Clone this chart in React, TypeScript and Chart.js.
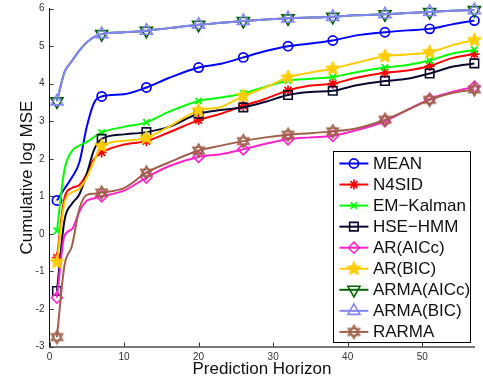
import React, { useEffect, useRef } from 'react';
import { Chart, registerables } from 'chart.js';
import { drawPoint } from 'chart.js/helpers';

Chart.register(...registerables);

// ---------- data ----------
const horizon = [1, 2, 3, 4, 5, 6, 7, 10, 13, 16, 20, 23, 26, 29, 32, 35, 38, 41, 45, 48, 51, 54, 57];
const markerSteps = [1, 7, 13, 20, 26, 32, 38, 45, 51, 57];
const xTicks = [0, 10, 20, 30, 40, 50];
const yTicks = [-3, -2, -1, 0, 1, 2, 3, 4, 5, 6];

const seriesNames = ['MEAN', 'N4SID', 'EM\u2212Kalman', 'HSE\u2212HMM', 'AR(AICc)', 'AR(BIC)', 'ARMA(AICc)', 'ARMA(BIC)', 'RARMA'];

const meanValues = [0.89, 1.2, 1.5, 1.9, 2.85, 3.5, 3.66, 3.72, 3.9, 4.15, 4.43, 4.53, 4.7, 4.87, 5.0, 5.07, 5.15, 5.28, 5.37, 5.42, 5.46, 5.58, 5.68];
const n4sidValues = [-0.63, 0.95, 1.22, 1.3, 1.6, 2.0, 2.17, 2.38, 2.47, 2.7, 3.03, 3.2, 3.41, 3.6, 3.82, 3.95, 4.0, 4.15, 4.29, 4.35, 4.47, 4.68, 4.79];
const emKalmanValues = [0.08, 1.7, 2.2, 2.35, 2.45, 2.58, 2.7, 2.85, 2.97, 3.25, 3.54, 3.63, 3.74, 3.92, 4.08, 4.13, 4.18, 4.3, 4.43, 4.5, 4.62, 4.8, 4.9];
const hseHmmValues = [-1.52, 0.35, 0.8, 1.05, 1.6, 2.25, 2.53, 2.65, 2.71, 2.85, 3.2, 3.3, 3.37, 3.52, 3.7, 3.78, 3.81, 3.95, 4.07, 4.13, 4.27, 4.45, 4.54];
const arAiccValues = [-1.7, -0.06, 0.12, 0.59, 0.88, 0.95, 1.0, 1.15, 1.5, 1.8, 2.05, 2.12, 2.25, 2.4, 2.52, 2.57, 2.61, 2.75, 3.0, 3.3, 3.59, 3.78, 3.92];
const arBicValues = [-0.75, 0.82, 1.1, 1.2, 1.5, 1.95, 2.34, 2.48, 2.56, 2.85, 3.29, 3.38, 3.67, 3.9, 4.17, 4.3, 4.4, 4.55, 4.73, 4.78, 4.84, 5.02, 5.16];
const armaAiccValues = [3.53, 4.3, 4.6, 4.88, 5.1, 5.25, 5.32, 5.37, 5.41, 5.48, 5.57, 5.62, 5.67, 5.71, 5.74, 5.76, 5.78, 5.82, 5.85, 5.88, 5.91, 5.94, 5.96];
const armaBicValues = [3.53, 4.3, 4.6, 4.88, 5.1, 5.25, 5.32, 5.37, 5.41, 5.48, 5.57, 5.62, 5.67, 5.71, 5.74, 5.76, 5.78, 5.82, 5.85, 5.88, 5.91, 5.94, 5.96];
const rarmaValues = [-2.75, -0.85, -0.33, 0.66, 1.04, 1.07, 1.1, 1.22, 1.63, 1.9, 2.22, 2.35, 2.47, 2.57, 2.64, 2.68, 2.73, 2.8, 3.04, 3.3, 3.57, 3.75, 3.85];

const allValues = [meanValues, n4sidValues, emKalmanValues, hseHmmValues, arAiccValues, arBicValues, armaAiccValues, armaBicValues, rarmaValues];

const FONT = '"Liberation Sans", Arial, Helvetica, sans-serif';

function makeStarCanvas(color: string, r: number) {
  const c = document.createElement('canvas');
  const s = Math.ceil(2 * r + 4);
  c.width = s;
  c.height = s;
  const g = c.getContext('2d')!;
  const cx = s / 2, cy = s / 2;
  g.beginPath();
  for (let i = 0; i < 10; i++) {
    const rr = i % 2 === 0 ? r : r * 0.45;
    const a = -Math.PI / 2 + (i * Math.PI) / 5;
    const px = cx + rr * Math.cos(a);
    const py = cy + rr * Math.sin(a);
    if (i === 0) g.moveTo(px, py);
    else g.lineTo(px, py);
  }
  g.closePath();
  g.fillStyle = color;
  g.fill();
  g.strokeStyle = color;
  g.lineWidth = 1;
  g.stroke();
  return c;
}

function makeHexagramCanvas(color: string, r: number, lw: number) {
  const c = document.createElement('canvas');
  const s = Math.ceil(2 * r + 4);
  c.width = s;
  c.height = s;
  const g = c.getContext('2d')!;
  const cx = s / 2, cy = s / 2;
  g.strokeStyle = color;
  g.lineWidth = lw;
  for (const off of [-Math.PI / 2, Math.PI / 2]) {
    g.beginPath();
    for (let i = 0; i < 3; i++) {
      const a = off + (i * 2 * Math.PI) / 3;
      const px = cx + r * Math.cos(a);
      const py = cy + r * Math.sin(a);
      if (i === 0) g.moveTo(px, py);
      else g.lineTo(px, py);
    }
    g.closePath();
    g.stroke();
  }
  return c;
}

export default function App() {
  const ref = useRef<HTMLCanvasElement | null>(null);

  useEffect(() => {
    if (!ref.current) return;
    const starImg = makeStarCanvas('#ffcc00', 7.5);
    const hexImg = makeHexagramCanvas('#a0604a', 6.5, 1.6);

    const styles: any[] = [
      { color: '#0000ff', pointStyle: 'circle', radius: 4.6, bw: 1.7, rotation: 0 },
      { color: '#ff0000', pointStyle: 'star', radius: 5, bw: 1.7, rotation: 0 },
      { color: '#00ff00', pointStyle: 'crossRot', radius: 4.5, bw: 1.7, rotation: 0 },
      { color: '#0a0a30', pointStyle: 'rect', radius: 6, bw: 1.6, rotation: 0 },
      { color: '#ff22cc', pointStyle: 'rectRot', radius: 5.5, bw: 1.6, rotation: 0 },
      { color: '#ffcc00', pointStyle: starImg, radius: 7, bw: 1, rotation: 0 },
      { color: '#006400', pointStyle: 'triangle', radius: 7, bw: 1.6, rotation: 180 },
      { color: '#8585ff', pointStyle: 'triangle', radius: 7, bw: 1.6, rotation: 0 },
      { color: '#a0604a', pointStyle: hexImg, radius: 7, bw: 1, rotation: 0 },
    ];

    const datasets = seriesNames.map((name, i) => {
      const st = styles[i];
      return {
        label: name,
        data: horizon.map((x, k) => ({ x, y: allValues[i][k] })),
        borderColor: st.color,
        backgroundColor: st.color,
        borderWidth: 2,
        cubicInterpolationMode: 'monotone' as const,
        pointStyle: st.pointStyle,
        pointRotation: st.rotation,
        pointBorderColor: st.color,
        pointBackgroundColor: 'rgba(0,0,0,0)',
        pointBorderWidth: st.bw,
        pointRadius: (ctx: any) => (markerSteps.includes(horizon[ctx.dataIndex]) ? st.radius : 0),
        pointHoverRadius: 0,
        order: 8 - i,
        clip: false as any,
      };
    });

    const tickPlugin = {
      id: 'inwardTicks',
      afterDatasetsDraw(chart: any) {
        const { ctx, chartArea, scales } = chart;
        ctx.save();
        ctx.strokeStyle = '#333';
        ctx.lineWidth = 1;
        for (const v of xTicks) {
          const px = Math.round(scales.x.getPixelForValue(v)) + 0.5;
          ctx.beginPath();
          ctx.moveTo(px, chartArea.bottom);
          ctx.lineTo(px, chartArea.bottom - 4);
          ctx.stroke();
        }
        for (const v of yTicks) {
          const py = Math.round(scales.y.getPixelForValue(v)) + 0.5;
          ctx.beginPath();
          ctx.moveTo(chartArea.left, py);
          ctx.lineTo(chartArea.left + 4, py);
          ctx.stroke();
        }
        ctx.restore();
      },
    };

    const legendPlugin = {
      id: 'boxLegend',
      afterDraw(chart: any) {
        const { ctx, chartArea } = chart;
        const w = 137, h = 191;
        const right = chartArea.right - 4.5;
        const bottom = chartArea.bottom - 4.5;
        const left = right - w;
        const top = bottom - h;
        ctx.save();
        ctx.fillStyle = '#ffffff';
        ctx.fillRect(left, top, w, h);
        ctx.strokeStyle = '#000000';
        ctx.lineWidth = 1;
        ctx.strokeRect(Math.round(left) + 0.5, Math.round(top) + 0.5, Math.round(w), Math.round(h));
        ctx.font = `17px ${FONT}`;
        ctx.textBaseline = 'middle';
        ctx.textAlign = 'left';
        seriesNames.forEach((name, i) => {
          const st = styles[i];
          const y = top + 12.5 + i * 21.05;
          const x1 = left + 6.5, x2 = left + 35.5;
          ctx.strokeStyle = st.color;
          ctx.lineWidth = 2;
          ctx.beginPath();
          ctx.moveTo(x1, y);
          ctx.lineTo(x2, y);
          ctx.stroke();
          ctx.fillStyle = 'rgba(0,0,0,0)';
          ctx.lineWidth = st.bw;
          drawPoint(ctx, { pointStyle: st.pointStyle, rotation: st.rotation, radius: st.radius, borderWidth: st.bw } as any, (x1 + x2) / 2, y);
          ctx.fillStyle = '#111';
          ctx.fillText(name, left + 40, y + 0.5);
        });
        ctx.restore();
      },
    };

    const chart = new Chart(ref.current, {
      type: 'line',
      data: { datasets: datasets as any },
      plugins: [tickPlugin, legendPlugin],
      options: {
        responsive: false,
        animation: false,
        events: [],
        layout: { padding: { top: 4.3, right: 0.3, left: 0, bottom: 0 } },
        plugins: { legend: { display: false }, tooltip: { enabled: false } },
        scales: {
          x: {
            type: 'linear',
            min: 0,
            max: 57,
            afterBuildTicks: (scale: any) => {
              scale.ticks = xTicks.map((v) => ({ value: v }));
            },
            afterFit: (scale: any) => {
              scale.height = 36.5;
              scale.paddingLeft = 0;
              scale.paddingRight = 0;
            },
            grid: { display: false, drawTicks: false },
            border: { display: true, color: '#7a7a7a', width: 2 },
            ticks: { padding: 5, color: '#333', font: { size: 10, family: FONT } },
            title: {
              display: true,
              text: 'Prediction Horizon',
              color: '#111',
              font: { size: 17, family: FONT },
              padding: { top: 0, bottom: 3.8 },
            },
          },
          y: {
            type: 'linear',
            min: -3,
            max: 6,
            afterBuildTicks: (scale: any) => {
              scale.ticks = yTicks.map((v) => ({ value: v }));
            },
            afterFit: (scale: any) => {
              scale.width = 49.5;
              scale.paddingTop = 0;
              scale.paddingBottom = 0;
            },
            grid: { display: false, drawTicks: false },
            border: { display: true, color: '#111', width: 1 },
            ticks: { padding: 5, color: '#333', font: { size: 10, family: FONT } },
            title: {
              display: true,
              text: 'Cumulative log MSE',
              color: '#111',
              font: { size: 17, family: FONT },
              padding: { top: 16.8, bottom: 0 },
            },
          },
        },
      },
    });
    return () => chart.destroy();
  }, []);

  return (
    <div style={{ position: 'absolute', left: 0, top: 0, width: 483, height: 383, background: '#fff' }}>
      <canvas ref={ref} width={483} height={383} style={{ display: 'block' }} />
    </div>
  );
}
